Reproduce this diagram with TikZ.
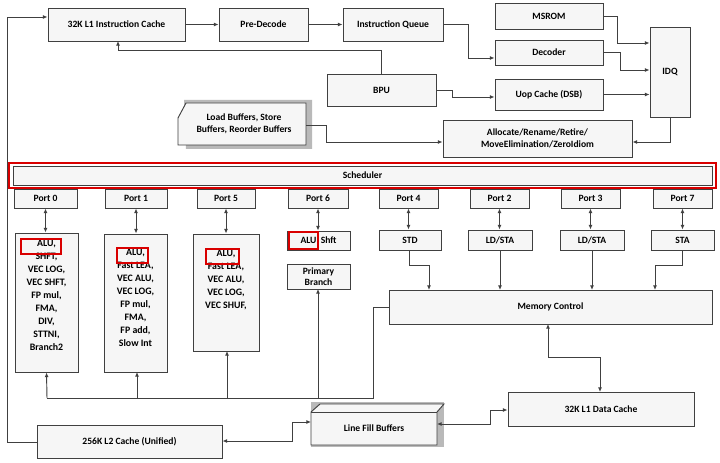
\documentclass[tikz,border=0pt]{standalone}
\usepackage{fontspec}
\setmainfont{Carlito}
\usetikzlibrary{arrows.meta}
\begin{document}
\begin{tikzpicture}[x=0.75pt,y=-0.75pt,
  bx/.style={draw=black!75,fill=gray!7,line width=0.7pt,font=\fontsize{7.2}{8.6}\selectfont\bfseries,align=center,inner sep=0pt},
  lst/.style={bx,draw=none,fill=none,anchor=north,font=\fontsize{7.4}{9.7}\selectfont\bfseries},
  ar/.style={-{Latex[length=3.5pt,width=3pt]},draw=black!75,line width=0.7pt},
  dar/.style={{Latex[length=3.5pt,width=3pt]}-{Latex[length=3.5pt,width=3pt]},draw=black!75,line width=0.7pt},
  ln/.style={draw=black!75,line width=0.7pt},
  red/.style={draw=red!85!black,line width=1.3pt}]
\useasboundingbox (0,0) rectangle (720,463);
\fill[white] (0,0) rectangle (720,463);
\newcommand{\bxat}[4]{\node[bx,minimum width={(#3-#1)*0.75pt},minimum height={(#4-#2)*0.75pt}] at ({(#1+#3)/2},{(#2+#4)/2})}
% top
\bxat{48}{8}{185}{41} (l1i) {32K L1 Instruction Cache};
\bxat{219}{8}{308}{41} (pd) {Pre-Decode};
\bxat{343}{8}{443}{41} (iq) {Instruction Queue};
\bxat{495}{3}{603}{29} (ms) {MSROM};
\bxat{495}{40}{603}{65} (dec) {Decoder};
\bxat{650}{27}{690}{117} (idq) {IDQ};
\bxat{327}{74}{436}{106} (bpu) {BPU};
\bxat{495}{79}{603}{110} (uop) {Uop Cache (DSB)};
\bxat{443}{120}{632}{157} (alloc) {Allocate/Rename/Retire/\\MoveElimination/ZeroIdiom};
% load buffers 3D
\fill[gray!55] (184,100) -- (312,100) -- (312,149) -- (186,149) -- cycle;
\draw[ln,fill=gray!7] (186,103) -- (306,103) -- (306,145) -- (178,145) -- (178,118) -- cycle;
\node[font=\fontsize{7.2}{8.6}\selectfont\bfseries,align=center] (lb) at (244,124) {Load Buffers, Store\\Buffers, Reorder Buffers};
\coordinate (lbr) at (306,125);
% scheduler
\draw[red] (9,163) rectangle (716,188);
\bxat{13}{166}{712}{185} (sch) {Scheduler};
% ports
\bxat{14}{189}{77}{208} (p0) {Port 0};
\bxat{105}{189}{167}{208} (p1) {Port 1};
\bxat{197}{189}{255}{208} (p5) {Port 5};
\bxat{288}{189}{348}{208} (p6) {Port 6};
\bxat{379}{189}{438}{208} (p4) {Port 4};
\bxat{470}{189}{529}{208} (p2) {Port 2};
\bxat{561}{189}{620}{208} (p3) {Port 3};
\bxat{653}{189}{712}{208} (p7) {Port 7};
% exec units
\bxat{15}{233}{78}{372} (e0) {};
\node[lst] at (46.5,240) {ALU,\\SHFT,\\VEC LOG,\\VEC SHFT,\\FP mul,\\FMA,\\DIV,\\STTNI,\\Branch2};
\draw[red] (21,239) rectangle (61,254);
\bxat{104}{234}{167}{372} (e1) {};
\node[lst] at (135.5,249) {ALU,\\Fast LEA,\\VEC ALU,\\VEC LOG,\\FP mul,\\FMA,\\FP add,\\Slow Int};
\draw[red] (117,248) rectangle (148,263);
\bxat{193}{234}{259}{351} (e5) {};
\node[lst] at (226,250) {ALU,\\Fast LEA,\\VEC ALU,\\VEC LOG,\\VEC SHUF,};
\draw[red] (206,249) rectangle (239,264);
\bxat{287}{231}{350}{250} (e6) {ALU\ \ Shft};
\draw[red] (289,232) rectangle (318,249);
\bxat{287}{264}{350}{289} (pb) {Primary\\Branch};
\bxat{379}{230}{441}{250} (std) {STD};
\bxat{468}{230}{532}{250} (lds1) {LD/STA};
\bxat{560}{230}{624}{250} (lds2) {LD/STA};
\bxat{651}{230}{714}{250} (sta) {STA};
\bxat{389}{290}{712}{324} (mc) {Memory Control};
\bxat{508}{392}{694}{426} (l1d) {32K L1 Data Cache};
\bxat{37}{425}{222}{458} (l2) {256K L2 Cache (Unified)};
% line fill buffers 3D
\fill[gray!55] (311,402) rectangle (444,447);
\draw[ln,fill=gray!7] (320,404) -- (444,404) -- (437,412) -- (437,445) -- (311,445) -- (311,412) -- cycle;
\draw[ln] (311,412) -- (437,412);
\node[bx,draw=none,fill=none] (lfb) at (374,428) {Line Fill Buffers};
% top connectors
\draw[ar] (l1i) -- (pd);
\draw[ar] (pd) -- (iq);
\draw[ar] (iq.east) -- (468,24.5) |- (dec.west |- 0,58);
\draw[ar] (ms.east) -- (617,16) |- (idq.west |- 0,43);
\draw[ar] (dec.east) -- (620,52.5) |- (idq.west |- 0,70);
\draw[ar] (uop.east) -- (idq.west |- uop.east);
\draw[ar] (381,74) |- (118,50) -- (118,41);
\draw[ar] (bpu.east) -- (452,90) |- (uop.west |- 0,97);
\draw[ar] (idq.south) -- (670,142) -- (alloc.east |- 0,142);
\draw[ar] (lbr) -- (326,125) |- (alloc.west |- 0,142);
% port arrows
\foreach \p/\e in {p0/e0,p1/e1,p5/e5,p6/e6,p4/std,p2/lds1,p3/lds2,p7/sta}
  \draw[dar] (\p.south) -- (\p.south |- \e.north);
% memory ports
\draw[ar] (409,250) |- (429,265) -- (429,290);
\draw[ar] (500,250) -- (500,290);
\draw[ar] (592,250) -- (592,290);
\draw[ar] (682,250) |- (655,265) -- (655,290);
% bus
\draw[ln] (47,398) -- (373,398) |- (mc.west |- 0,307);
\draw[ar] (47,398) -- (e0.south);
\draw[ar] (137,398) -- (137,372);
\draw[ar] (227,398) -- (227,351);
\draw[ar] (318,398) -- (318,289);
% memory hierarchy
\draw[dar] (548,324) -- (548,357) -| (600,392);
\draw[dar] (437,424) -- (490,424) |- (l1d.west |- 0,410);
\draw[dar] (l2.east |- 0,441) -- (292,441) |- (311,422);
\draw[ar] (l2.west |- 0,442) -| (7,17) -- (l1i.west |- 0,17);
\end{tikzpicture}
\end{document}
